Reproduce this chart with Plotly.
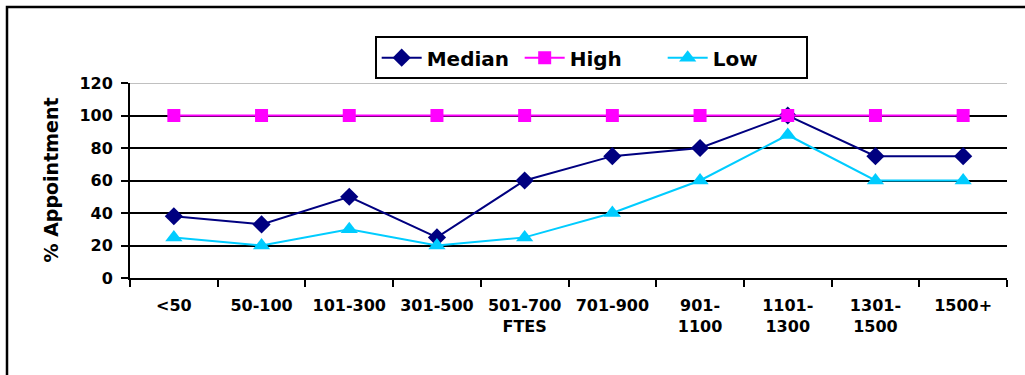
import plotly.graph_objects as go

# FTE size bands and appointment percentages per band
categories = ["<50", "50-100", "101-300", "301-500", "501-700<br>FTES", "701-900",
              "901-<br>1100", "1101-<br>1300", "1301-<br>1500", "1500+"]
median = [38, 33, 50, 25, 60, 75, 80, 100, 75, 75]
high = [100, 100, 100, 100, 100, 100, 100, 100, 100, 100]
low = [25, 20, 30, 20, 25, 40, 60, 88, 60, 60]
y_ticks = [0, 20, 40, 60, 80, 100, 120]

FONT = "DejaVu Sans, Arial, sans-serif"

fig = go.Figure()
fig.add_trace(go.Scatter(
    x=categories, y=median, name="Median", mode="lines+markers",
    line=dict(color="#000080", width=2),
    marker=dict(symbol="diamond", size=14, color="#000080"),
))
fig.add_trace(go.Scatter(
    x=categories, y=high, name="High", mode="lines+markers",
    line=dict(color="#FF00FF", width=2),
    marker=dict(symbol="square", size=13, color="#FF00FF"),
))
fig.add_trace(go.Scatter(
    x=categories, y=low, name="Low", mode="lines+markers",
    line=dict(color="#00CCFF", width=2),
    marker=dict(symbol="triangle-up", size=15, color="#00CCFF"),
))

fig.update_layout(
    width=1025, height=375,
    margin=dict(l=130, r=18, t=83, b=97),
    paper_bgcolor="white", plot_bgcolor="white",
    font=dict(family=FONT, color="black"),
    showlegend=True,
    legend=dict(
        orientation="h", x=0.279, y=1.24, xanchor="left", yanchor="top",
        bordercolor="black", borderwidth=2, bgcolor="white",
        font=dict(family=FONT, size=20, color="black", weight="bold"),
        itemwidth=40, entrywidth=88, tracegroupgap=0,
    ),
    xaxis=dict(
        type="category", tickson="boundaries", ticks="outside", ticklen=7,
        tickwidth=2, tickcolor="black", showline=True, linecolor="black",
        linewidth=2, showgrid=False, zeroline=False, ticklabelstandoff=12,
        tickfont=dict(family=FONT, size=16, color="black", weight="bold"),
        range=[-0.5, 9.5],
    ),
    yaxis=dict(
        range=[0, 120], tickvals=y_ticks, ticks="outside", ticklen=7,
        tickwidth=2, tickcolor="black", showline=True, linecolor="black",
        linewidth=2, showgrid=True, gridcolor="black", gridwidth=2,
        zeroline=False, ticklabelstandoff=5,
        tickfont=dict(family=FONT, size=16, color="black", weight="bold"),
    ),
    shapes=[
        # light top gridline at 120
        dict(type="line", xref="paper", yref="y", x0=0, x1=1, y0=120, y1=120,
             line=dict(color="#C0C0C0", width=2), layer="above"),
        # chart area frame
        dict(type="rect", xref="paper", yref="paper",
             x0=(7 - 130) / 877, x1=1.2, y0=-1.0, y1=(278 - 7) / 195,
             line=dict(color="black", width=2.5), layer="below"),
    ],
    annotations=[
        dict(text="% Appointment", xref="paper", yref="paper",
             x=(50 - 130) / 877, y=0.5, xanchor="center", yanchor="middle",
             textangle=-90, showarrow=False,
             font=dict(family=FONT, size=19, color="black", weight="bold")),
    ],
)

fig.write_html("out.html")
